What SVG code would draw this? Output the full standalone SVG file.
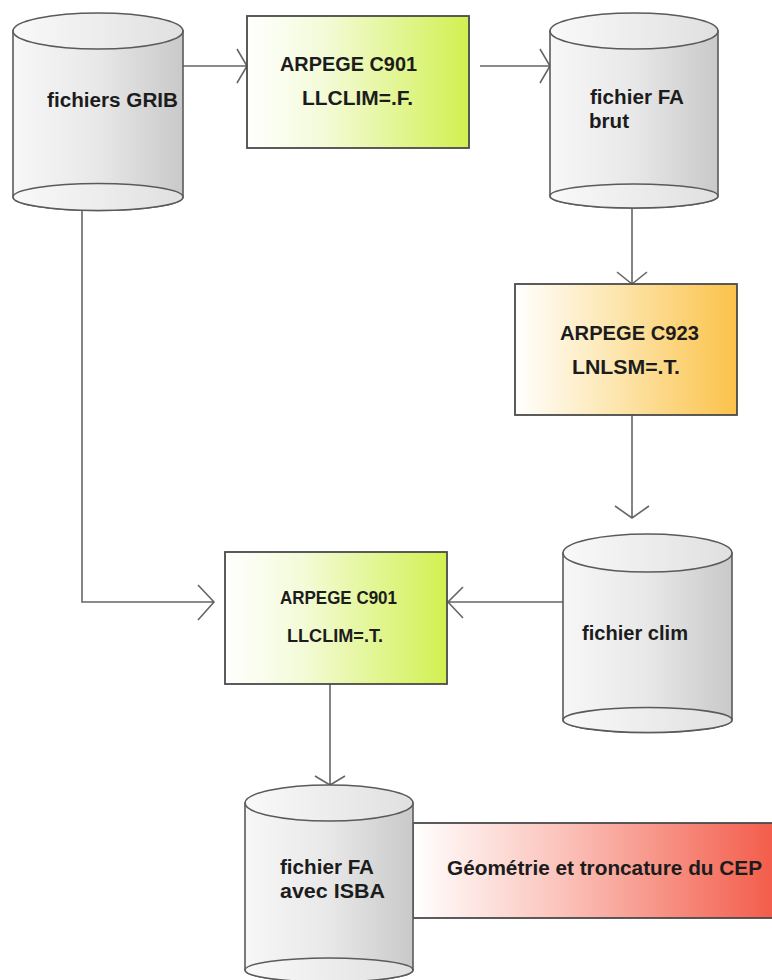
<svg xmlns="http://www.w3.org/2000/svg" width="772" height="980" viewBox="0 0 772 980">
<defs>
<linearGradient id="cylBody" x1="0" y1="0" x2="1" y2="0">
<stop offset="0" stop-color="#f7f7f7"/>
<stop offset="0.5" stop-color="#e8e8e8"/>
<stop offset="1" stop-color="#c9c9c9"/>
</linearGradient>
<linearGradient id="cylTop" x1="0" y1="0" x2="1" y2="0">
<stop offset="0" stop-color="#f9f9f9"/>
<stop offset="1" stop-color="#e0e0e0"/>
</linearGradient>
<linearGradient id="green" x1="0" y1="0" x2="1" y2="0">
<stop offset="0" stop-color="#ffffff"/>
<stop offset="0.35" stop-color="#f3fbd8"/>
<stop offset="1" stop-color="#d2f050"/>
</linearGradient>
<linearGradient id="orange" x1="0" y1="0" x2="1" y2="0">
<stop offset="0" stop-color="#ffffff"/>
<stop offset="0.4" stop-color="#fde9b8"/>
<stop offset="1" stop-color="#fbc24a"/>
</linearGradient>
<linearGradient id="red" x1="0" y1="0" x2="1" y2="0">
<stop offset="0" stop-color="#ffffff"/>
<stop offset="0.4" stop-color="#fbc4bc"/>
<stop offset="1" stop-color="#f35a48"/>
</linearGradient>
</defs>
<style>
.cyl{fill:url(#cylBody);stroke:#5a5a5a;stroke-width:1.6}
.cap{fill:url(#cylTop);stroke:#5a5a5a;stroke-width:1.6}
.box{stroke:#4a4a4a;stroke-width:1.8}
.lbl{font-family:"Liberation Sans",Arial,sans-serif;font-weight:bold;font-size:20px;fill:#1c1c1c}
.sm{font-size:18px}
.con{fill:none;stroke:#666;stroke-width:1.6}
</style>

<g id="connectors">
<path class="con" d="M183,66 H247 M237,49 L247,66 L237,83"/>
<path class="con" d="M480,66 H550 M540,49 L550,66 L540,83"/>
<path class="con" d="M632,208 V284 M617,272 L632,284 L647,272"/>
<path class="con" d="M632,415 V518 M615,506 L632,518 L649,506"/>
<path class="con" d="M563,602 H448 M463,587 L448,602 L463,618"/>
<path class="con" d="M82,211 V602 H214 M198,585 L214,602 L198,620"/>
<path class="con" d="M330,684 V785 M315,776 L330,785 L345,776"/>
</g>

<g id="grib">
<path class="cyl" d="M13,31 V197 A85,13.5 0 0 0 183,197 V31 Z"/>
<ellipse class="cap" cx="98" cy="31" rx="85" ry="18"/>
<ellipse class="cap" cx="98" cy="197" rx="85" ry="13.5"/>
<text class="lbl" x="47" y="107" textLength="131" lengthAdjust="spacingAndGlyphs">fichiers GRIB</text>
</g>

<g id="c901a">
<rect class="box" x="247" y="16" width="222" height="132" fill="url(#green)"/>
<text class="lbl" x="280" y="71" textLength="137" lengthAdjust="spacingAndGlyphs">ARPEGE C901</text>
<text class="lbl" x="302" y="105" textLength="111" lengthAdjust="spacingAndGlyphs">LLCLIM=.F.</text>
</g>

<g id="fabrut">
<path class="cyl" d="M550,31 V196 A84,12 0 0 0 718,196 V31 Z"/>
<ellipse class="cap" cx="634" cy="31" rx="84" ry="18"/>
<ellipse class="cap" cx="634" cy="196" rx="84" ry="12"/>
<text class="lbl" x="590" y="104" textLength="94" lengthAdjust="spacingAndGlyphs">fichier FA</text>
<text class="lbl" x="589" y="128" textLength="40" lengthAdjust="spacingAndGlyphs">brut</text>
</g>

<g id="c923">
<rect class="box" x="515" y="284" width="222" height="131" fill="url(#orange)"/>
<text class="lbl" x="560" y="340" textLength="139" lengthAdjust="spacingAndGlyphs">ARPEGE C923</text>
<text class="lbl" x="572" y="374" textLength="108" lengthAdjust="spacingAndGlyphs">LNLSM=.T.</text>
</g>

<g id="clim">
<path class="cyl" d="M563,553 V720 A84.5,12.5 0 0 0 732,720 V553 Z"/>
<ellipse class="cap" cx="647.5" cy="553" rx="84.5" ry="19"/>
<ellipse class="cap" cx="647.5" cy="720" rx="84.5" ry="12.5"/>
<text class="lbl" x="582" y="640" textLength="106" lengthAdjust="spacingAndGlyphs">fichier clim</text>
</g>

<g id="c901b">
<rect class="box" x="225" y="552" width="222" height="132" fill="url(#green)"/>
<text class="lbl sm" x="280" y="604" textLength="117" lengthAdjust="spacingAndGlyphs">ARPEGE C901</text>
<text class="lbl sm" x="287" y="642" textLength="96" lengthAdjust="spacingAndGlyphs">LLCLIM=.T.</text>
</g>

<g id="cep">
<rect class="box" x="413" y="823" width="365" height="95" fill="url(#red)"/>
<text class="lbl" x="447" y="875" textLength="315" lengthAdjust="spacingAndGlyphs">Géométrie et troncature du CEP</text>
</g>

<g id="faisba">
<path class="cyl" d="M245,803 V970 A84,12 0 0 0 413,970 V803 Z"/>
<ellipse class="cap" cx="329" cy="803" rx="84" ry="18"/>
<ellipse class="cap" cx="329" cy="970" rx="84" ry="12"/>
<text class="lbl" x="280" y="874" textLength="94" lengthAdjust="spacingAndGlyphs">fichier FA</text>
<text class="lbl" x="280" y="898" textLength="105" lengthAdjust="spacingAndGlyphs">avec ISBA</text>
</g>
</svg>
